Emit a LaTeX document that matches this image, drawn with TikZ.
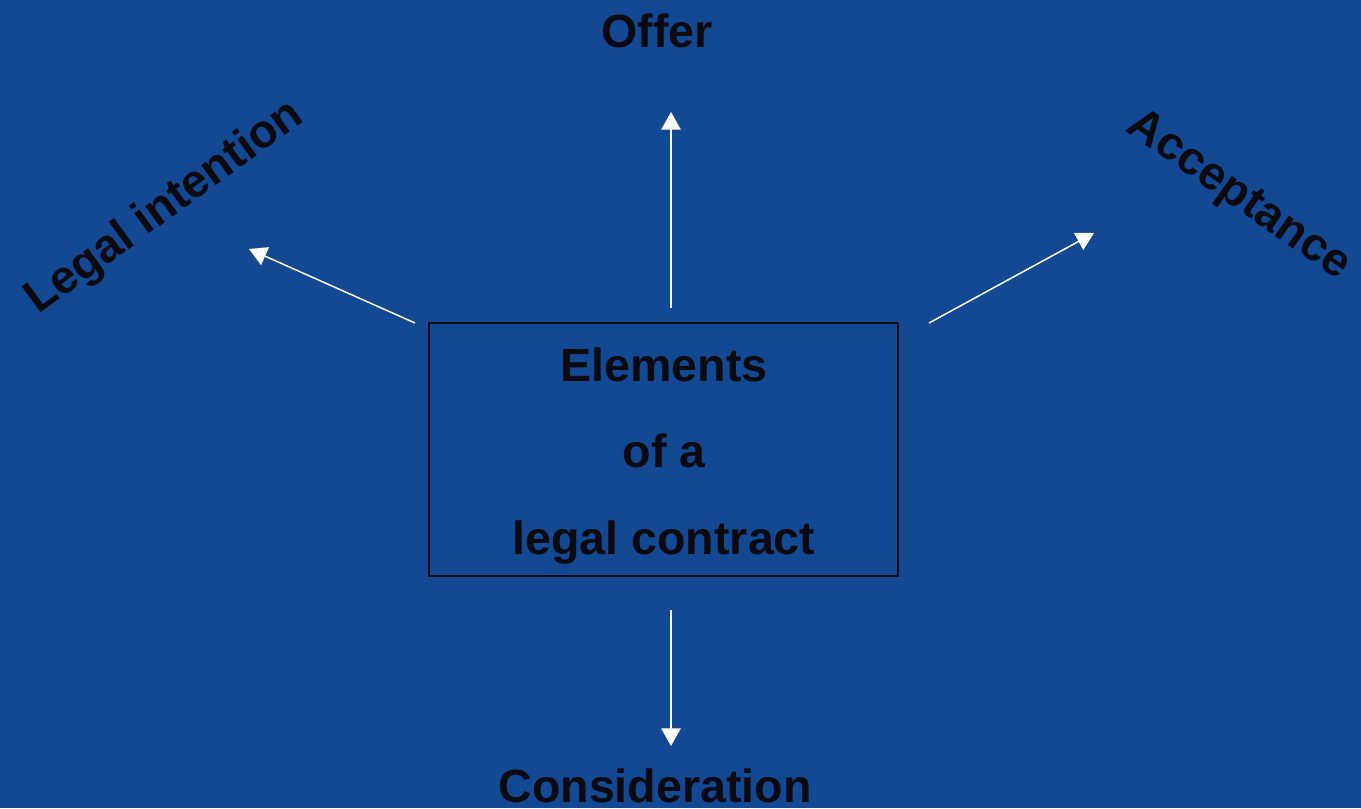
\documentclass[tikz,border=0pt]{standalone}
\usepackage{fontspec}
\setmainfont{Liberation Sans}
\usetikzlibrary{arrows.meta}
\definecolor{slideblue}{RGB}{19,72,146}
\definecolor{inkblack}{RGB}{10,10,16}

\begin{document}
\begin{tikzpicture}[x=0.02cm, y=-0.02cm,
    lbl/.style={font=\fontsize{26.5}{49}\selectfont\bfseries, text=inkblack, inner sep=0pt},
    arr/.style={draw=white, line width=0.85pt, -{Triangle[width=11pt,length=10pt]}}]
% Background
\fill[slideblue] (0,0) rectangle (1361,808);
\useasboundingbox (0,0) rectangle (1361,808);

% Centre box
\node[draw=inkblack, line width=1pt, minimum width=9.38cm, minimum height=5.06cm] (box) at (663.5,449.5) {};
\node[lbl, align=center] (title) at (664,456) {Elements\\of a\\legal contract};

% Labels round the box
\node[lbl] (offer) at (657,31) {Offer};
\node[lbl] (consid) at (655,786) {Consideration};
\node[lbl, rotate=36] (intent) at (165,208) {Legal intention};
\node[lbl, rotate=-35] (accept) at (1238,196) {Acceptance};

% Arrow ends
\coordinate (upfrom) at (671,308);
\coordinate (upto) at (671,112);
\coordinate (downfrom) at (671,610);
\coordinate (downto) at (671,746);
\coordinate (leftfrom) at (415,323);
\coordinate (leftto) at (249,249);
\coordinate (rightfrom) at (929,323);
\coordinate (rightto) at (1094,233);

% Arrows
\draw[arr] (upfrom) -- (upto);
\draw[arr] (downfrom) -- (downto);
\draw[arr] (leftfrom) -- (leftto);
\draw[arr] (rightfrom) -- (rightto);
\end{tikzpicture}
\end{document}
